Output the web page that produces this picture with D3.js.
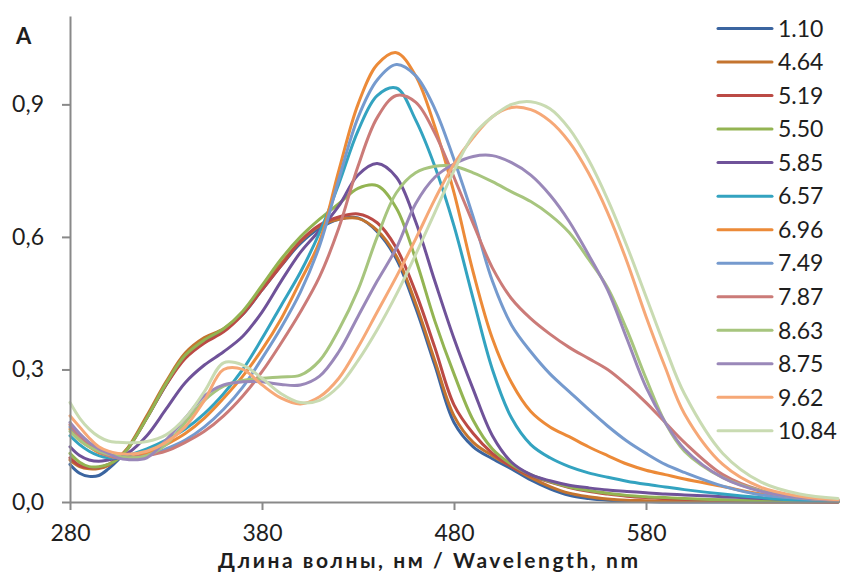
<!DOCTYPE html>
<html>
<head>
<meta charset="utf-8">
<script src="https://cdn.jsdelivr.net/npm/d3@7"></script>
<style>
  html, body { margin: 0; padding: 0; background: #ffffff; }
  svg { display: block; }
  text { font-family: Lato, "Open Sans", sans-serif; fill: #1e1e1e; }
</style>
</head>
<body>
<svg id="chart" width="841" height="574"></svg>
<script>
// ---------- DATA ----------
const wavelengths = [280,285,290,295,300,305,310,320,330,340,350,360,370,380,390,400,410,420,430,440,450,460,470,480,490,500,510,520,530,540,550,560,570,580,590,600,620,640,660,680];

const seriesNames = ["1.10","4.64","5.19","5.50","5.85","6.57","6.96","7.49","7.87","8.63","8.75","9.62","10.84"];
const seriesColors = ["#3b65a0","#c4742f","#bb4a45","#93b452","#6f5299","#33a3c0","#ec8a38","#759ace","#cb7b78","#a7c57e","#9a88b9","#f6a877","#c9dbb2"];

const s110 = [.085,.065,.058,.06,.075,.095,.12,.19,.265,.33,.365,.39,.425,.48,.535,.585,.62,.64,.643,.612,.55,.44,.31,.18,.125,.098,.075,.05,.03,.015,.008,.004,.002,.001,0,0,0,0,0,0];
const s464 = [.095,.08,.075,.076,.083,.1,.122,.195,.272,.337,.372,.392,.43,.485,.54,.59,.625,.64,.642,.615,.556,.45,.32,.195,.135,.105,.08,.055,.035,.02,.012,.007,.004,.003,.002,.001,.001,0,0,0];
const s519 = [.1,.083,.078,.078,.085,.1,.12,.19,.265,.325,.36,.385,.425,.48,.535,.59,.627,.645,.652,.632,.575,.475,.35,.22,.155,.11,.08,.06,.045,.033,.024,.018,.013,.01,.008,.006,.004,.002,.001,0];
const s550 = [.11,.09,.08,.08,.085,.098,.12,.19,.268,.332,.367,.392,.432,.49,.55,.6,.64,.675,.71,.716,.665,.55,.41,.29,.185,.12,.085,.062,.046,.034,.026,.02,.015,.012,.01,.008,.005,.003,.002,.001];
const s585 = [.125,.105,.095,.092,.095,.1,.11,.15,.21,.27,.31,.34,.375,.43,.5,.565,.615,.67,.74,.766,.735,.635,.5,.37,.255,.15,.09,.062,.048,.038,.032,.027,.024,.021,.018,.016,.012,.008,.005,.003];
const s657 = [.15,.13,.115,.105,.1,.1,.105,.12,.14,.165,.2,.245,.3,.37,.445,.52,.61,.72,.84,.92,.937,.865,.76,.625,.46,.3,.19,.13,.1,.08,.066,.056,.047,.04,.034,.028,.018,.01,.004,.002];
const s696 = [.165,.14,.125,.112,.105,.1,.1,.11,.13,.155,.19,.235,.285,.345,.415,.5,.59,.75,.9,.99,1.017,.965,.85,.7,.52,.37,.27,.205,.17,.148,.125,.105,.086,.072,.062,.052,.035,.018,.009,.004];
const s749 = [.17,.15,.13,.115,.105,.1,.1,.105,.12,.14,.17,.21,.26,.325,.395,.475,.58,.73,.87,.955,.99,.965,.89,.775,.645,.5,.4,.34,.29,.25,.21,.172,.138,.11,.085,.067,.036,.016,.008,.004];
const s787 = [.175,.15,.13,.115,.105,.1,.1,.105,.115,.135,.16,.195,.24,.295,.36,.43,.51,.62,.76,.87,.92,.905,.835,.735,.63,.53,.46,.415,.38,.35,.325,.3,.265,.225,.18,.135,.062,.026,.01,.004];
const s863 = [.16,.14,.125,.115,.108,.104,.1,.105,.13,.18,.23,.262,.275,.28,.283,.287,.32,.39,.48,.6,.7,.745,.76,.76,.745,.725,.702,.68,.65,.61,.55,.485,.39,.28,.18,.115,.055,.025,.01,.004];
const s875 = [.18,.155,.135,.12,.11,.1,.096,.1,.14,.19,.24,.265,.272,.272,.266,.265,.285,.34,.42,.5,.575,.675,.735,.765,.782,.784,.768,.74,.695,.635,.56,.48,.37,.26,.18,.12,.055,.024,.01,.004];
const s962 = [.195,.17,.145,.125,.115,.11,.108,.115,.135,.17,.23,.3,.3,.265,.235,.222,.238,.28,.35,.43,.51,.595,.685,.765,.825,.872,.893,.888,.862,.815,.745,.655,.545,.42,.305,.2,.085,.033,.013,.005];
const s1084 = [.225,.19,.165,.148,.138,.135,.134,.137,.152,.19,.25,.315,.31,.28,.245,.225,.23,.262,.32,.39,.47,.56,.655,.75,.83,.872,.9,.906,.89,.845,.775,.685,.58,.465,.35,.245,.11,.045,.018,.008];

const seriesValues = [s110,s464,s519,s550,s585,s657,s696,s749,s787,s863,s875,s962,s1084];

const xTicks = [280,380,480,580];
const yTicks = [0,0.3,0.6,0.9];
const yAxisLabel = "A";
const xAxisTitle = "Длина волны, нм / Wavelength, nm";

// ---------- CHART ----------
const svg = d3.select("#chart");
const x = d3.scaleLinear().domain([280,680]).range([70,838]);
const y = d3.scaleLinear().domain([0,1.1]).range([502,16]);
const axisColor = "#898989";

// lines
const line = d3.line()
  .x(d => x(d[0]))
  .y(d => y(d[1]))
  .curve(d3.curveCatmullRom.alpha(0.5));

const linesG = svg.append("g");
seriesValues.forEach((vals, i) => {
  const pts = wavelengths.map((w, j) => [w, vals[j]]);
  linesG.append("path")
    .datum(pts)
    .attr("d", line)
    .attr("fill", "none")
    .attr("stroke", seriesColors[i])
    .attr("stroke-width", 3)
    .attr("stroke-linejoin", "round")
    .attr("stroke-linecap", "round");
});

// y axis
const yAxis = svg.append("g")
  .attr("transform", "translate(70,0)")
  .call(d3.axisLeft(y).tickValues(yTicks)
    .tickFormat(d => d.toFixed(1).replace(".", ","))
    .tickSize(8).tickSizeOuter(0).tickPadding(18));
yAxis.select(".domain").attr("stroke", axisColor).attr("stroke-width", 2);
yAxis.selectAll(".tick line").attr("stroke", axisColor).attr("stroke-width", 2);
yAxis.selectAll(".tick text")
  .attr("font-size", 23)
  .attr("font-family", "Lato, 'Open Sans', sans-serif")
  .attr("fill", "#1e1e1e");

// x axis
const xAxis = svg.append("g")
  .attr("transform", "translate(0,502)")
  .call(d3.axisBottom(x).tickValues(xTicks)
    .tickSize(8).tickSizeOuter(0));
xAxis.select(".domain").attr("stroke", axisColor).attr("stroke-width", 2);
xAxis.selectAll(".tick line").attr("stroke", axisColor).attr("stroke-width", 2);
xAxis.selectAll(".tick text")
  .attr("y", 39).attr("dy", null)
  .attr("font-size", 23)
  .attr("font-family", "Lato, 'Open Sans', sans-serif")
  .attr("fill", "#1e1e1e");

// axis labels
svg.append("text")
  .attr("x", 16).attr("y", 44)
  .attr("font-size", 22).attr("font-weight", "bold")
  .text(yAxisLabel);

svg.append("text")
  .attr("x", 428).attr("y", 567.8)
  .attr("text-anchor", "middle")
  .attr("font-family", "'Open Sans', Lato, sans-serif")
  .attr("font-size", 21).attr("font-weight", "bold")
  .attr("textLength", 420).attr("lengthAdjust", "spacing")
  .text(xAxisTitle);

// legend
const legend = svg.append("g");
seriesNames.forEach((name, i) => {
  const ly = 28.5 + i * 33.53;
  legend.append("line")
    .attr("x1", 718).attr("x2", 772)
    .attr("y1", ly).attr("y2", ly)
    .attr("stroke", seriesColors[i])
    .attr("stroke-width", 3)
    .attr("stroke-linecap", "round");
  legend.append("text")
    .attr("x", 778).attr("y", ly)
    .attr("dy", "0.36em")
    .attr("font-size", 23)
    .text(name);
});
</script>
</body>
</html>
